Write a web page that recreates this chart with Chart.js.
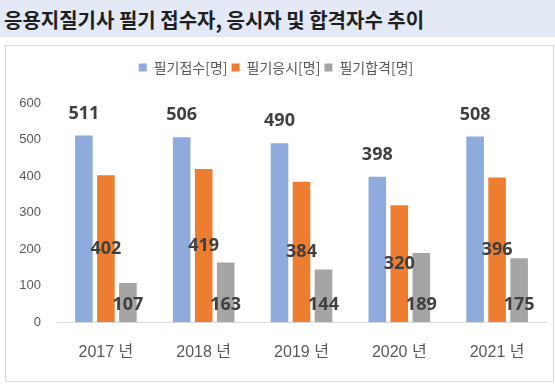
<!DOCTYPE html>
<html>
<head>
<meta charset="utf-8">
<script src="https://cdn.jsdelivr.net/npm/chart.js@4"></script>
<style>
  html, body { margin:0; padding:0; background:#fff; width:555px; height:384px; overflow:hidden; }
  #title { position:absolute; left:0; top:0; width:555px; height:37px; background:#e3e9f5;
           font:bold 20px "Noto Sans CJK KR", sans-serif; color:#1f1f1f; line-height:40px;
           padding-left:4px; box-sizing:border-box; white-space:nowrap; }
  #box { position:absolute; left:5px; top:45px; width:549px; height:337px;
         border:1px solid #d9d9d9; box-sizing:border-box; }
  #box canvas { display:block; }
</style>
</head>
<body>
<div id="title">응용지질기사 필기 접수자, 응시자 및 합격자수 추이</div>
<div id="box"><canvas id="chart1" width="547" height="335"></canvas></div>
<script>
  var years = ['2017 년', '2018 년', '2019 년', '2020 년', '2021 년'];
  var seriesNames = ['필기접수[명]', '필기응시[명]', '필기합격[명]'];
  var dataJeopsu = [511, 506, 490, 398, 508];
  var dataEungsi = [402, 419, 384, 320, 396];
  var dataHapgyeok = [107, 163, 144, 189, 175];
  var yTicks = [0, 100, 200, 300, 400, 500, 600];

  Chart.defaults.font.family = '"Liberation Sans", "Noto Sans CJK KR", sans-serif';
  Chart.defaults.color = '#595959';

  // 막대 위 숫자 (접수: 막대 위, 응시: 가운데, 합격: 아래쪽)
  var valueLabels = {
    id: 'valueLabels',
    afterDatasetsDraw: function(chart) {
      var ctx = chart.ctx;
      ctx.save();
      ctx.font = 'bold 18px "Noto Sans", sans-serif';
      ctx.fillStyle = '#404040';
      ctx.textAlign = 'center';
      ctx.textBaseline = 'middle';
      chart.data.datasets.forEach(function(ds, i) {
        var meta = chart.getDatasetMeta(i);
        meta.data.forEach(function(bar, j) {
          var y;
          if (ds.labelPos === 'outEnd') y = bar.y - 22;
          else if (ds.labelPos === 'center') y = (bar.y + bar.base) / 2;
          else y = bar.base - 17;
          ctx.fillText(ds.data[j], bar.x, y);
        });
      });
      ctx.restore();
    }
  };

  // 범례 아래 여백
  var legendGap = {
    id: 'legendGap',
    beforeInit: function(chart) {
      var fit = chart.legend.fit;
      chart.legend.fit = function() {
        fit.call(this);
        this.height += 18.5;
      };
    }
  };

  var ctx = document.getElementById('chart1');
  var chart = new Chart(ctx, {
    type: 'bar',
    data: {
      labels: years,
      datasets: [{
        label: seriesNames[0],
        data: dataJeopsu,
        backgroundColor: '#8faadc',
        labelPos: 'outEnd'
      }, {
        label: seriesNames[1],
        data: dataEungsi,
        backgroundColor: '#ed7d31',
        labelPos: 'center'
      }, {
        label: seriesNames[2],
        data: dataHapgyeok,
        backgroundColor: '#a5a5a5',
        labelPos: 'inBase'
      }]
    },
    options: {
      responsive: false,
      animation: false,
      categoryPercentage: 0.675,
      barPercentage: 0.8,
      layout: { padding: { top: 10.5, left: 0, right: 7, bottom: 0 } },
      plugins: {
        legend: {
          position: 'top',
          labels: {
            boxWidth: 8,
            boxHeight: 8,
            padding: 4,
            color: '#595959',
            font: { size: 14, family: '"Noto Sans CJK KR", sans-serif' }
          }
        },
        tooltip: { enabled: false }
      },
      scales: {
        x: {
          grid: { display: false, drawTicks: false },
          border: { display: true, color: '#d9d9d9', width: 1 },
          ticks: { color: '#595959', font: { size: 16 }, padding: 21 },
          afterFit: function(s) { s.height = 59; }
        },
        y: {
          min: 0,
          max: 600,
          grid: { display: false, drawTicks: false },
          border: { display: false },
          ticks: { color: '#595959', font: { size: 13 }, padding: 16 },
          afterBuildTicks: function(s) {
            s.ticks = yTicks.map(function(v) { return { value: v }; });
          },
          afterFit: function(s) { s.width = 51; }
        }
      }
    },
    plugins: [valueLabels, legendGap]
  });
</script>
</body>
</html>
